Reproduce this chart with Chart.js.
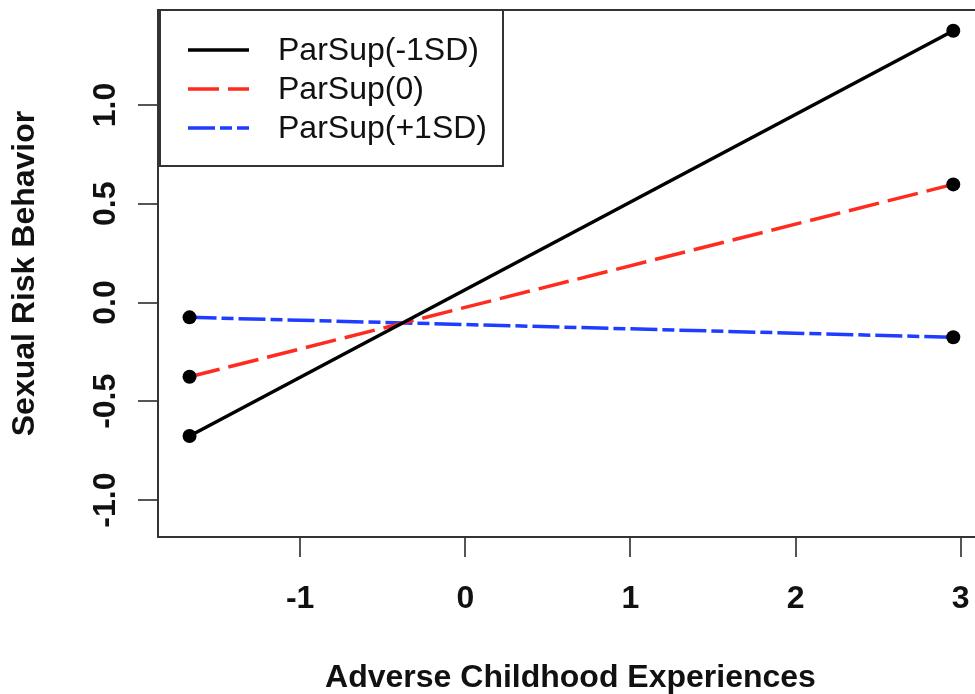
<!DOCTYPE html>
<html>
<head>
<meta charset="utf-8">
<script src="https://cdn.jsdelivr.net/npm/chart.js@4/dist/chart.umd.min.js"></script>
<style>
  html, body { margin: 0; padding: 0; background: #fff; overflow: hidden; }
  #wrap { width: 990px; height: 694px; }
</style>
</head>
<body>
<div id="wrap"><canvas id="myChart" width="990" height="694"></canvas></div>
<script>
// Data
var xValues = [-1.67, 2.955];
var lowSupport = [-0.676, 1.376];
var meanSupport = [-0.376, 0.598];
var highSupport = [-0.075, -0.176];
var seriesNames = ['ParSup(-1SD)', 'ParSup(0)', 'ParSup(+1SD)'];
var xTicks = [-1, 0, 1, 2, 3];
var yTicks = [-1.0, -0.5, 0.0, 0.5, 1.0];
var xTitle = 'Adverse Childhood Experiences';
var yTitle = 'Sexual Risk Behavior';

var FONT = '"Liberation Sans", Arial, Helvetica, sans-serif';

function toPoints(ys) {
    return xValues.map(function (x, i) { return { x: x, y: ys[i] }; });
}

function makeSeries(name, ys, color, dash) {
    return {
        label: name,
        data: toPoints(ys),
        borderColor: color,
        borderWidth: 3.5,
        borderDash: dash,
        borderCapStyle: 'butt',
        showLine: true,
        pointRadius: 7,
        pointHoverRadius: 7,
        pointBackgroundColor: '#000',
        pointBorderWidth: 0
    };
}

// Box, tick labels, axis titles and legend in the R base-graphics style
var rStyle = {
    id: 'rStyle',
    afterDraw: function (chart) {
        var ctx = chart.ctx;
        var a = chart.chartArea;
        var sx = chart.scales.x;
        var sy = chart.scales.y;
        ctx.save();

        ctx.strokeStyle = '#333';
        ctx.lineWidth = 2;
        ctx.strokeRect(a.left, a.top, a.right - a.left, a.bottom - a.top);

        ctx.fillStyle = '#111';
        ctx.font = 'bold 32px ' + FONT;
        ctx.textAlign = 'center';
        ctx.textBaseline = 'alphabetic';
        xTicks.forEach(function (v) {
            ctx.fillText(String(v), sx.getPixelForValue(v), 608);
        });
        yTicks.forEach(function (v) {
            ctx.save();
            ctx.translate(115, sy.getPixelForValue(v));
            ctx.rotate(-Math.PI / 2);
            ctx.fillText(v.toFixed(1), 0, 0);
            ctx.restore();
        });

        ctx.fillText(xTitle, (a.left + a.right) / 2, 687);
        ctx.save();
        ctx.translate(34, (a.top + a.bottom) / 2);
        ctx.rotate(-Math.PI / 2);
        ctx.fillText(yTitle, 0, 0);
        ctx.restore();

        // legend
        var lx = a.left + 2, ly = a.top, lw = 343, lh = 156;
        ctx.fillStyle = '#fff';
        ctx.fillRect(lx, ly, lw, lh);
        ctx.strokeStyle = '#333';
        ctx.lineWidth = 2;
        ctx.strokeRect(lx, ly, lw, lh);
        ctx.font = '32px ' + FONT;
        ctx.textAlign = 'left';
        ctx.textBaseline = 'middle';
        chart.data.datasets.forEach(function (ds, i) {
            var rowY = ly + 40 + i * 39;
            ctx.strokeStyle = ds.borderColor;
            ctx.lineWidth = ds.borderWidth;
            ctx.setLineDash(ds.borderDash || []);
            ctx.beginPath();
            ctx.moveTo(lx + 28, rowY);
            ctx.lineTo(lx + 89, rowY);
            ctx.stroke();
            ctx.setLineDash([]);
            ctx.fillStyle = '#111';
            ctx.fillText(ds.label, lx + 118, rowY + 1);
        });
        ctx.restore();
    }
};

var ctx = document.getElementById('myChart').getContext('2d');
var myChart = new Chart(ctx, {
    type: 'scatter',
    data: {
        datasets: [
            makeSeries(seriesNames[0], lowSupport, '#000', []),
            makeSeries(seriesNames[1], meanSupport, '#ff2b1f', [31, 9]),
            makeSeries(seriesNames[2], highSupport, '#1f3dff', [27, 5, 12, 5])
        ]
    },
    options: {
        responsive: false,
        animation: false,
        events: [],
        devicePixelRatio: 1,
        layout: { padding: { top: 10, right: 6, bottom: 0, left: 0 } },
        plugins: { legend: { display: false }, tooltip: { enabled: false } },
        scales: {
            x: {
                type: 'linear',
                min: -1.861,
                max: 3.135,
                afterBuildTicks: function (s) { s.ticks = xTicks.map(function (v) { return { value: v }; }); },
                afterFit: function (s) { s.height = 157; },
                ticks: { display: false },
                grid: { drawOnChartArea: false, drawTicks: true, tickLength: 20, color: '#555', lineWidth: 2 },
                border: { display: true, color: '#333', width: 2 }
            },
            y: {
                type: 'linear',
                min: -1.187,
                max: 1.481,
                afterBuildTicks: function (s) { s.ticks = yTicks.map(function (v) { return { value: v }; }); },
                afterFit: function (s) { s.width = 158; },
                ticks: { display: false },
                grid: { drawOnChartArea: false, drawTicks: true, tickLength: 20, color: '#555', lineWidth: 2 },
                border: { display: true, color: '#333', width: 2 }
            }
        }
    },
    plugins: [rStyle]
});
</script>
</body>
</html>
